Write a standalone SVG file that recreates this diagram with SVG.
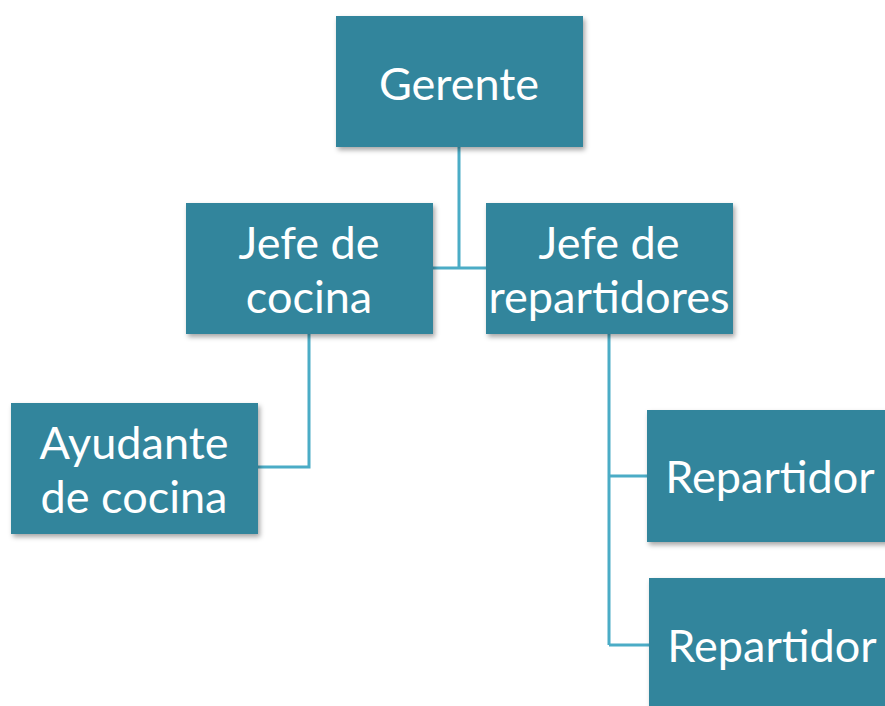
<svg xmlns="http://www.w3.org/2000/svg" width="885" height="706" viewBox="0 0 885 706">
<defs>
<filter id="sh" x="-10%" y="-10%" width="120%" height="130%">
<feDropShadow dx="2" dy="3" stdDeviation="2.5" flood-color="#000" flood-opacity="0.35"/>
</filter>
<style>
.box{fill:#31859C;filter:url(#sh)}
.t{fill:#fff;font-family:Lato,"Open Sans","Liberation Sans",sans-serif;font-size:45px;text-anchor:middle}
.c{fill:none;stroke:#4BACC6;stroke-width:3}
</style>
</defs>
<rect width="885" height="706" fill="#fff"/>
<g id="connectors">
<path class="c" d="M459,147 V268 M433,268 H486"/>
<path class="c" d="M309,334 V467 H258"/>
<path class="c" d="M609,334 V645 M609,476 H647 M609,645 H649"/>
</g>
<g id="gerente">
<rect class="box" x="336" y="16" width="247" height="131"/>
<text class="t" x="459" y="100">Gerente</text>
</g>
<g id="jefe-cocina">
<rect class="box" x="186" y="203" width="247" height="131"/>
<text class="t" x="309" y="259">Jefe de</text>
<text class="t" x="309" y="313">cocina</text>
</g>
<g id="jefe-repartidores">
<rect class="box" x="486" y="203" width="247" height="131"/>
<text class="t" x="609" y="259">Jefe de</text>
<text class="t" x="609" y="313" textLength="241" lengthAdjust="spacingAndGlyphs">repartidores</text>
</g>
<g id="ayudante">
<rect class="box" x="11" y="403" width="247" height="131"/>
<text class="t" x="134" y="459">Ayudante</text>
<text class="t" x="134" y="513">de cocina</text>
</g>
<g id="repartidor1">
<rect class="box" x="647" y="410" width="260" height="132"/>
<text class="t" x="770" y="493">Repartidor</text>
</g>
<g id="repartidor2">
<rect class="box" x="649" y="578" width="260" height="140"/>
<text class="t" x="772" y="662">Repartidor</text>
</g>
</svg>
